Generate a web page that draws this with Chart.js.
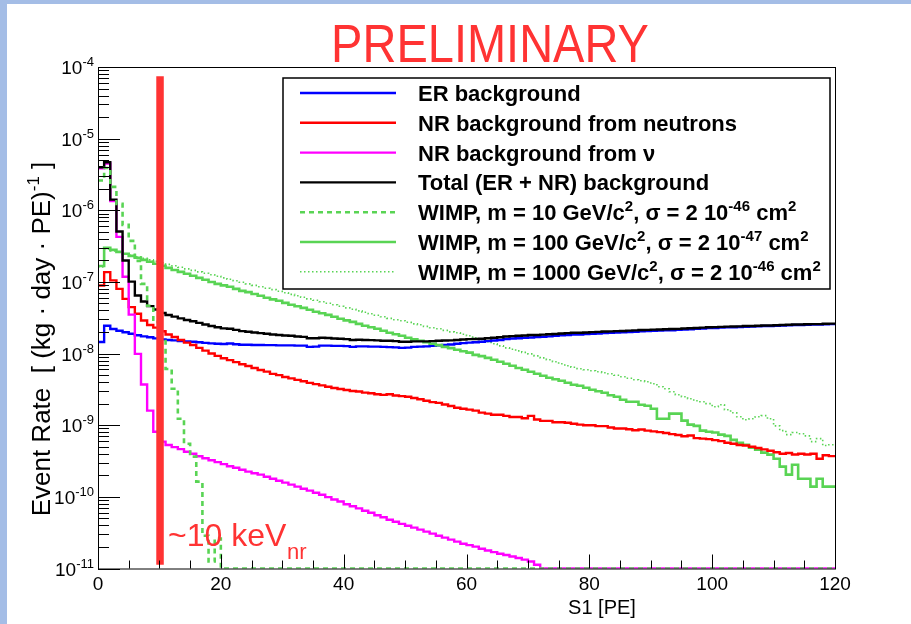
<!DOCTYPE html>
<html>
<head>
<meta charset="utf-8">
<script src="https://cdn.jsdelivr.net/npm/chart.js@4.4.1/dist/chart.umd.min.js"></script>
<style>
  html, body { margin: 0; padding: 0; background: #fff; }
  #wrap { width: 911px; height: 624px; }
</style>
</head>
<body>
<div id="wrap"><canvas id="grafico" width="911" height="624"></canvas></div>
<script>
// event rate per 1 PE bin, bins start at S1 = 0, 1, 2 ... 119 PE
const ER_BKG = [
    1.45e-8, 2.45e-8, 2.2e-8, 2.08e-8, 1.98e-8, 1.89e-8, 1.8e-8, 1.74e-8, 1.69e-8, 1.63e-8,
    1.58e-8, 1.55e-8, 1.53e-8, 1.5e-8, 1.48e-8, 1.46e-8, 1.44e-8, 1.41e-8, 1.39e-8, 1.37e-8,
    1.36e-8, 1.38e-8, 1.35e-8, 1.33e-8, 1.33e-8, 1.32e-8, 1.32e-8, 1.31e-8, 1.31e-8, 1.3e-8,
    1.3e-8, 1.3e-8, 1.29e-8, 1.29e-8, 1.24e-8, 1.25e-8, 1.29e-8, 1.29e-8, 1.28e-8, 1.28e-8,
    1.27e-8, 1.24e-8, 1.26e-8, 1.26e-8, 1.25e-8, 1.25e-8, 1.24e-8, 1.23e-8, 1.22e-8, 1.2e-8,
    1.21e-8, 1.24e-8, 1.25e-8, 1.26e-8, 1.28e-8, 1.3e-8, 1.32e-8, 1.34e-8, 1.37e-8, 1.4e-8,
    1.42e-8, 1.44e-8, 1.46e-8, 1.49e-8, 1.52e-8, 1.55e-8, 1.59e-8, 1.62e-8, 1.64e-8, 1.66e-8,
    1.68e-8, 1.7e-8, 1.72e-8, 1.74e-8, 1.77e-8, 1.8e-8, 1.82e-8, 1.84e-8, 1.85e-8, 1.87e-8,
    1.89e-8, 1.91e-8, 1.93e-8, 1.95e-8, 1.97e-8, 1.98e-8, 2.0e-8, 2.02e-8, 2.04e-8, 2.06e-8,
    2.08e-8, 2.09e-8, 2.11e-8, 2.12e-8, 2.14e-8, 2.17e-8, 2.19e-8, 2.21e-8, 2.24e-8, 2.27e-8,
    2.28e-8, 2.3e-8, 2.32e-8, 2.33e-8, 2.35e-8, 2.37e-8, 2.38e-8, 2.4e-8, 2.42e-8, 2.43e-8,
    2.45e-8, 2.46e-8, 2.48e-8, 2.5e-8, 2.51e-8, 2.52e-8, 2.54e-8, 2.55e-8, 2.57e-8, 2.58e-8
];

const NR_NEUTRONS = [
    8.9e-8, 1.37e-7, 1.05e-7, 8.0e-8, 5.8e-8, 4.45e-8, 3.6e-8, 2.9e-8, 2.5e-8, 2.3e-8,
    2.05e-8, 1.85e-8, 1.7e-8, 1.55e-8, 1.42e-8, 1.32e-8, 1.2e-8, 1.1e-8, 1.0e-8, 9.3e-9,
    8.6e-9, 8.1e-9, 7.6e-9, 7.1e-9, 6.7e-9, 6.3e-9, 5.9e-9, 5.6e-9, 5.2e-9, 5.0e-9,
    4.7e-9, 4.5e-9, 4.3e-9, 4.1e-9, 3.9e-9, 3.75e-9, 3.6e-9, 3.45e-9, 3.3e-9, 3.2e-9,
    3.1e-9, 3.0e-9, 2.95e-9, 2.85e-9, 2.8e-9, 2.7e-9, 2.65e-9, 2.7e-9, 2.6e-9, 2.55e-9,
    2.5e-9, 2.4e-9, 2.3e-9, 2.2e-9, 2.1e-9, 2.05e-9, 1.95e-9, 1.85e-9, 1.75e-9, 1.7e-9,
    1.65e-9, 1.6e-9, 1.5e-9, 1.45e-9, 1.4e-9, 1.4e-9, 1.35e-9, 1.3e-9, 1.3e-9, 1.25e-9,
    1.35e-9, 1.2e-9, 1.15e-9, 1.15e-9, 1.1e-9, 1.1e-9, 1.08e-9, 1.05e-9, 1.02e-9, 1.0e-9,
    1.0e-9, 9.7e-10, 9.7e-10, 9.3e-10, 9.0e-10, 9.0e-10, 8.8e-10, 8.5e-10, 8.7e-10, 8.4e-10,
    8.2e-10, 8.0e-10, 7.8e-10, 7.5e-10, 7.3e-10, 7.0e-10, 7.2e-10, 6.6e-10, 6.5e-10, 6.4e-10,
    6.2e-10, 6.0e-10, 5.7e-10, 5.5e-10, 5.3e-10, 5.2e-10, 5.0e-10, 4.8e-10, 4.6e-10, 4.4e-10,
    4.2e-10, 4.0e-10, 4.1e-10, 3.9e-10, 4.0e-10, 3.9e-10, 4.0e-10, 3.4e-10, 3.8e-10, 3.7e-10
];

// empty bins sit on the axis floor (1e-11)
const NR_NU = [
    3.85e-6, 4.5e-6, 1.35e-6, 4.25e-7, 1.18e-7, 3.5e-8, 9.9e-9, 3.7e-9, 1.6e-9, 8.1e-10,
    5.9e-10, 5.3e-10, 4.95e-10, 4.63e-10, 4.27e-10, 4.0e-10, 3.69e-10, 3.46e-10, 3.25e-10, 3.05e-10,
    2.86e-10, 2.68e-10, 2.55e-10, 2.39e-10, 2.25e-10, 2.14e-10, 2.04e-10, 1.91e-10, 1.79e-10, 1.68e-10,
    1.58e-10, 1.48e-10, 1.39e-10, 1.3e-10, 1.22e-10, 1.14e-10, 1.07e-10, 9.9e-11, 9.2e-11, 8.6e-11,
    7.9e-11, 7.4e-11, 6.9e-11, 6.4e-11, 6.0e-11, 5.55e-11, 5.2e-11, 4.8e-11, 4.5e-11, 4.2e-11,
    3.96e-11, 3.72e-11, 3.49e-11, 3.27e-11, 3.07e-11, 2.87e-11, 2.7e-11, 2.53e-11, 2.37e-11, 2.22e-11,
    2.12e-11, 2.02e-11, 1.89e-11, 1.78e-11, 1.69e-11, 1.61e-11, 1.54e-11, 1.47e-11, 1.4e-11, 1.33e-11,
    1.25e-11, 1.13e-11, 1e-11, 1e-11, 1e-11, 1e-11, 1e-11, 1e-11, 1e-11, 1e-11,
    1e-11, 1e-11, 1e-11, 1e-11, 1e-11, 1e-11, 1e-11, 1e-11, 1e-11, 1e-11,
    1e-11, 1e-11, 1e-11, 1e-11, 1e-11, 1e-11, 1e-11, 1e-11, 1e-11, 1e-11,
    1e-11, 1e-11, 1e-11, 1e-11, 1e-11, 1e-11, 1e-11, 1e-11, 1e-11, 1e-11,
    1e-11, 1e-11, 1e-11, 1e-11, 1e-11, 1e-11, 1e-11, 1e-11, 1e-11, 1e-11
];

const TOTAL_BKG = [
    3.99e-6, 4.69e-6, 1.41e-6, 5.05e-7, 1.99e-7, 1.01e-7, 6.45e-8, 5.33e-8, 4.59e-8, 4.12e-8,
    3.69e-8, 3.45e-8, 3.28e-8, 3.1e-8, 2.94e-8, 2.82e-8, 2.68e-8, 2.55e-8, 2.42e-8, 2.33e-8,
    2.25e-8, 2.22e-8, 2.14e-8, 2.06e-8, 2.02e-8, 1.97e-8, 1.93e-8, 1.89e-8, 1.85e-8, 1.82e-8,
    1.79e-8, 1.77e-8, 1.73e-8, 1.71e-8, 1.64e-8, 1.64e-8, 1.66e-8, 1.65e-8, 1.62e-8, 1.61e-8,
    1.59e-8, 1.55e-8, 1.56e-8, 1.55e-8, 1.54e-8, 1.53e-8, 1.51e-8, 1.51e-8, 1.49e-8, 1.46e-8,
    1.46e-8, 1.48e-8, 1.48e-8, 1.48e-8, 1.49e-8, 1.51e-8, 1.52e-8, 1.53e-8, 1.55e-8, 1.57e-8,
    1.59e-8, 1.6e-8, 1.61e-8, 1.64e-8, 1.66e-8, 1.69e-8, 1.73e-8, 1.75e-8, 1.77e-8, 1.79e-8,
    1.82e-8, 1.82e-8, 1.84e-8, 1.86e-8, 1.88e-8, 1.91e-8, 1.93e-8, 1.95e-8, 1.95e-8, 1.97e-8,
    1.99e-8, 2.01e-8, 2.03e-8, 2.04e-8, 2.06e-8, 2.07e-8, 2.09e-8, 2.11e-8, 2.13e-8, 2.14e-8,
    2.16e-8, 2.17e-8, 2.19e-8, 2.2e-8, 2.21e-8, 2.24e-8, 2.26e-8, 2.28e-8, 2.3e-8, 2.33e-8,
    2.34e-8, 2.36e-8, 2.38e-8, 2.39e-8, 2.4e-8, 2.42e-8, 2.43e-8, 2.45e-8, 2.47e-8, 2.47e-8,
    2.49e-8, 2.5e-8, 2.52e-8, 2.54e-8, 2.55e-8, 2.56e-8, 2.58e-8, 2.58e-8, 2.61e-8, 2.62e-8
];

const WIMP_10 = [
    2.6e-6, 3.9e-6, 2.12e-6, 1.23e-6, 6.25e-7, 3.74e-7, 1.97e-7, 9.4e-8, 4.64e-8, 2.77e-8,
    1.61e-8, 6.1e-9, 3.23e-9, 1.23e-9, 5.5e-10, 3.64e-10, 1.63e-10, 2.87e-11, 1.25e-11, 2.61e-11,
    1e-11, 1e-11, 1e-11, 1e-11, 1e-11, 1e-11, 1e-11, 1e-11, 1e-11, 1e-11,
    1e-11, 1e-11, 1e-11, 1e-11, 1e-11, 1e-11, 1e-11, 1e-11, 1e-11, 1e-11,
    1e-11, 1e-11, 1e-11, 1e-11, 1e-11, 1e-11, 1e-11, 1e-11, 1e-11, 1e-11,
    1e-11, 1e-11, 1e-11, 1e-11, 1e-11, 1e-11, 1e-11, 1e-11, 1e-11, 1e-11,
    1e-11, 1e-11, 1e-11, 1e-11, 1e-11, 1e-11, 1e-11, 1e-11, 1e-11, 1e-11,
    1e-11, 1e-11, 1e-11, 1e-11, 1e-11, 1e-11, 1e-11, 1e-11, 1e-11, 1e-11,
    1e-11, 1e-11, 1e-11, 1e-11, 1e-11, 1e-11, 1e-11, 1e-11, 1e-11, 1e-11,
    1e-11, 1e-11, 1e-11, 1e-11, 1e-11, 1e-11, 1e-11, 1e-11, 1e-11, 1e-11,
    1e-11, 1e-11, 1e-11, 1e-11, 1e-11, 1e-11, 1e-11, 1e-11, 1e-11, 1e-11,
    1e-11, 1e-11, 1e-11, 1e-11, 1e-11, 1e-11, 1e-11, 1e-11, 1e-11, 1e-11
];

const WIMP_100 = [
    1.67e-7, 2.99e-7, 2.8e-7, 2.63e-7, 2.47e-7, 2.31e-7, 2.17e-7, 2.03e-7, 1.91e-7, 1.79e-7,
    1.68e-7, 1.57e-7, 1.47e-7, 1.38e-7, 1.3e-7, 1.22e-7, 1.14e-7, 1.07e-7, 1.0e-7, 9.4e-8,
    8.95e-8, 8.55e-8, 8.0e-8, 7.5e-8, 7.2e-8, 6.8e-8, 6.4e-8, 6.0e-8, 5.7e-8, 5.45e-8,
    5.1e-8, 4.8e-8, 4.57e-8, 4.35e-8, 4.08e-8, 3.83e-8, 3.65e-8, 3.47e-8, 3.26e-8, 3.06e-8,
    2.91e-8, 2.77e-8, 2.6e-8, 2.44e-8, 2.33e-8, 2.22e-8, 2.08e-8, 1.95e-8, 1.86e-8, 1.77e-8,
    1.66e-8, 1.58e-8, 1.51e-8, 1.44e-8, 1.37e-8, 1.31e-8, 1.24e-8, 1.19e-8, 1.13e-8, 1.08e-8,
    1.03e-8, 9.6e-9, 9.2e-9, 8.7e-9, 8.2e-9, 7.7e-9, 7.2e-9, 6.76e-9, 6.3e-9, 5.95e-9,
    5.57e-9, 5.22e-9, 4.9e-9, 4.6e-9, 4.38e-9, 4.17e-9, 3.91e-9, 3.67e-9, 3.56e-9, 3.33e-9,
    3.13e-9, 2.98e-9, 2.84e-9, 2.62e-9, 2.5e-9, 2.27e-9, 2.13e-9, 2.13e-9, 1.93e-9, 1.87e-9,
    1.7e-9, 1.23e-9, 1.23e-9, 1.45e-9, 1.45e-9, 1.16e-9, 1.02e-9, 9.8e-10, 8.4e-10, 8.1e-10,
    7.9e-10, 7.4e-10, 7.1e-10, 6.25e-10, 5.7e-10, 5.35e-10, 4.85e-10, 4.55e-10, 4.14e-10, 3.88e-10,
    3.41e-10, 2.64e-10, 2.04e-10, 2.81e-10, 1.79e-10, 1.79e-10, 1.39e-10, 1.79e-10, 1.39e-10, 1.39e-10
];

const WIMP_1000 = [
    1.62e-7, 2.89e-7, 2.71e-7, 2.59e-7, 2.47e-7, 2.35e-7, 2.24e-7, 2.13e-7, 2.03e-7, 1.94e-7,
    1.85e-7, 1.76e-7, 1.68e-7, 1.6e-7, 1.52e-7, 1.45e-7, 1.38e-7, 1.32e-7, 1.26e-7, 1.2e-7,
    1.14e-7, 1.09e-7, 1.04e-7, 9.9e-8, 9.4e-8, 8.95e-8, 8.55e-8, 8.15e-8, 7.8e-8, 7.4e-8,
    7.05e-8, 6.7e-8, 6.4e-8, 6.1e-8, 5.8e-8, 5.55e-8, 5.28e-8, 5.03e-8, 4.8e-8, 4.57e-8,
    4.35e-8, 4.15e-8, 3.95e-8, 3.77e-8, 3.59e-8, 3.42e-8, 3.26e-8, 3.1e-8, 2.96e-8, 2.87e-8,
    2.73e-8, 2.6e-8, 2.52e-8, 2.4e-8, 2.29e-8, 2.22e-8, 2.11e-8, 2.01e-8, 1.95e-8, 1.86e-8,
    1.77e-8, 1.66e-8, 1.56e-8, 1.46e-8, 1.37e-8, 1.28e-8, 1.2e-8, 1.15e-8, 1.09e-8, 1.04e-8,
    9.9e-9, 9.3e-9, 8.7e-9, 8.2e-9, 7.7e-9, 7.2e-9, 6.76e-9, 6.44e-9, 6.14e-9, 5.95e-9,
    5.76e-9, 5.57e-9, 5.4e-9, 5.22e-9, 4.98e-9, 4.75e-9, 4.52e-9, 4.31e-9, 4.17e-9, 4.04e-9,
    3.79e-9, 3.44e-9, 3.23e-9, 2.93e-9, 2.66e-9, 2.5e-9, 2.34e-9, 2.2e-9, 2.13e-9, 2.0e-9,
    1.81e-9, 1.93e-9, 1.64e-9, 1.49e-9, 1.31e-9, 1.19e-9, 1.23e-9, 1.31e-9, 1.36e-9, 1.23e-9,
    9.8e-10, 8.4e-10, 7.4e-10, 7.9e-10, 7.6e-10, 7.1e-10, 5.9e-10, 6.5e-10, 5.2e-10, 5.35e-10
];

const THRESHOLD_PE = 10.1;             // ~10 keVnr
const THRESHOLD_SPAN = [1.13e-11, 7.4e-5];

const X_TICKS = [0, 20, 40, 60, 80, 100, 120];
const Y_DECADES = [-11, -10, -9, -8, -7, -6, -5, -4];

const FONT = "'Liberation Sans', Arial, Helvetica, sans-serif";
const GREEN = '#59d454';

// histogram: each value is held over its 1 PE bin, the last bin is closed at 120
function toSteps(vals) {
    const pts = vals.map((v, i) => ({ x: i, y: v }));
    pts.push({ x: vals.length, y: vals[vals.length - 1] });
    return pts;
}

const SERIES = [
    { label: 'ER background', data: ER_BKG, color: '#0000ff', width: 2.4, dash: [], order: 6 },
    { label: 'NR background from neutrons', data: NR_NEUTRONS, color: '#ff0000', width: 2.4, dash: [], order: 4 },
    { label: 'NR background from \u03bd', data: NR_NU, color: '#ff00ff', width: 2.4, dash: [], order: 3 },
    { label: 'Total (ER + NR) background', data: TOTAL_BKG, color: '#000000', width: 2.4, dash: [], order: 2 },
    { label: 'WIMP 10', data: WIMP_10, color: GREEN, width: 2.6, dash: [5, 4], order: 1 },
    { label: 'WIMP 100', data: WIMP_100, color: GREEN, width: 2.6, dash: [], order: 5 },
    { label: 'WIMP 1000', data: WIMP_1000, color: GREEN, width: 1.6, dash: [1.5, 2.5], order: 7 }
];

// legend rows as text runs: [text, 0 normal | 1 superscript]
const LEGEND_TEXT = [
    [['ER background', 0]],
    [['NR background from neutrons', 0]],
    [['NR background from \u03bd', 0]],
    [['Total (ER + NR) background', 0]],
    [['WIMP, m = 10 GeV/c', 0], ['2', 1], [', \u03c3 = 2 10', 0], ['-46', 1], [' cm', 0], ['2', 1]],
    [['WIMP, m = 100 GeV/c', 0], ['2', 1], [', \u03c3 = 2 10', 0], ['-47', 1], [' cm', 0], ['2', 1]],
    [['WIMP, m = 1000 GeV/c', 0], ['2', 1], [', \u03c3 = 2 10', 0], ['-46', 1], [' cm', 0], ['2', 1]]
];

function runs(ctx, parts, x, y, size, weight, align) {
    const small = Math.round(size * 0.66);
    const fontOf = p => weight + ' ' + (p[1] ? small : size) + 'px ' + FONT;
    const widths = parts.map(p => { ctx.font = fontOf(p); return ctx.measureText(p[0]).width; });
    const total = widths.reduce((a, b) => a + b, 0);
    let cx = align === 'right' ? x - total : align === 'center' ? x - total / 2 : x;
    parts.forEach((p, i) => {
        ctx.font = fontOf(p);
        const dy = p[1] === 1 ? -size * 0.42 : p[1] === -1 ? size * 0.3 : 0;
        ctx.fillText(p[0], cx, y + dy);
        cx += widths[i];
    });
}

const rootStyle = {
    id: 'rootStyle',
    beforeDraw(chart) {
        const ctx = chart.ctx;
        ctx.save();
        ctx.fillStyle = '#ffffff';
        ctx.fillRect(0, 0, chart.width, chart.height);
        ctx.fillStyle = '#a4bde6';
        ctx.fillRect(0, 0, chart.width, 4);
        ctx.fillRect(0, 0, 7, chart.height);
        ctx.restore();
    },
    afterDatasetsDraw(chart) {
        const ctx = chart.ctx;
        const area = chart.chartArea;
        const xs = chart.scales.x, ys = chart.scales.y;
        ctx.save();

        // frame
        ctx.strokeStyle = '#000';
        ctx.lineWidth = 1;
        ctx.strokeRect(area.left + 0.5, area.top + 0.5, area.right - area.left, area.bottom - area.top);

        // y ticks, inside the frame
        ctx.beginPath();
        Y_DECADES.forEach(e => {
            const base = Math.pow(10, e);
            const py = Math.round(ys.getPixelForValue(base)) + 0.5;
            ctx.moveTo(area.left, py); ctx.lineTo(area.left + 22, py);
            if (e < -4) {
                for (let m = 2; m <= 9; m++) {
                    const p = Math.round(ys.getPixelForValue(m * base)) + 0.5;
                    ctx.moveTo(area.left, p); ctx.lineTo(area.left + 11, p);
                }
            }
        });
        // x ticks every 5 PE, long ones every 20
        for (let v = 0; v <= 120; v += 5) {
            const px = Math.round(xs.getPixelForValue(v)) + 0.5;
            const len = v % 20 === 0 ? 14 : 8;
            ctx.moveTo(px, area.bottom); ctx.lineTo(px, area.bottom - len);
        }
        ctx.stroke();

        // tick labels
        ctx.fillStyle = '#000';
        ctx.textBaseline = 'alphabetic';
        Y_DECADES.forEach(e => {
            const py = ys.getPixelForValue(Math.pow(10, e));
            runs(ctx, [['10', 0], [String(e), 1]], 94, py + 7, 19, 'normal', 'right');
        });
        ctx.textAlign = 'left';
        X_TICKS.forEach(v => {
            const px = xs.getPixelForValue(v);
            runs(ctx, [[String(v), 0]], px, 590, 19, 'normal', 'center');
        });

        // axis titles
        runs(ctx, [['S1 [PE]', 0]], 602, 614, 20, 'normal', 'center');
        ctx.save();
        ctx.translate(50, 339);
        ctx.rotate(-Math.PI / 2);
        runs(ctx, [['Event Rate  [ (kg \u00b7 day \u00b7 PE)', 0], ['-1', 1], [' ]', 0]], 0, 0, 26, 'normal', 'center');
        ctx.restore();

        // legend box
        ctx.lineWidth = 1.5;
        ctx.strokeStyle = '#000';
        ctx.strokeRect(283, 78, 547, 211);
        SERIES.forEach((s, i) => {
            const y = 93 + i * 29.8;
            ctx.beginPath();
            ctx.strokeStyle = s.color;
            ctx.lineWidth = s.width;
            ctx.setLineDash(s.dash);
            ctx.moveTo(300, y); ctx.lineTo(396, y);
            ctx.stroke();
            ctx.setLineDash([]);
            ctx.fillStyle = '#000';
            runs(ctx, LEGEND_TEXT[i], 418, y + 8, 22, 'bold', 'left');
        });

        // annotations
        ctx.fillStyle = '#ff3333';
        runs(ctx, [['~10 keV', 0]], 168, 546, 32, 'normal', 'left');
        runs(ctx, [['nr', 0]], 287, 559, 22, 'normal', 'left');
        ctx.save();
        ctx.translate(490, 62);
        ctx.scale(1, 1.16);
        runs(ctx, [['PRELIMINARY', 0]], 0, 0, 47, 'normal', 'center');
        ctx.restore();
        ctx.restore();
    }
};

const datasets = SERIES.map(s => ({
    label: s.label,
    data: toSteps(s.data),
    borderColor: s.color,
    borderWidth: s.width,
    borderDash: s.dash,
    stepped: true,
    pointRadius: 0,
    fill: false,
    order: s.order
}));
datasets.push({
    label: 'threshold',
    data: [{ x: THRESHOLD_PE, y: THRESHOLD_SPAN[0] }, { x: THRESHOLD_PE, y: THRESHOLD_SPAN[1] }],
    borderColor: '#ff3333',
    borderWidth: 7.5,
    borderCapStyle: 'butt',
    pointRadius: 0,
    order: 0
});

const CHART = document.getElementById('grafico');
const grafico = new Chart(CHART, {
    type: 'line',
    data: { datasets: datasets },
    options: {
        responsive: false,
        animation: false,
        devicePixelRatio: 1,
        layout: { padding: { left: 98, top: 67, right: 76, bottom: 55.5 } },
        plugins: { legend: { display: false }, tooltip: { enabled: false } },
        scales: {
            x: { type: 'linear', min: 0, max: 120, display: false },
            y: { type: 'logarithmic', min: 1e-11, max: 1e-4, display: false }
        }
    },
    plugins: [rootStyle]
});
</script>
</body>
</html>
